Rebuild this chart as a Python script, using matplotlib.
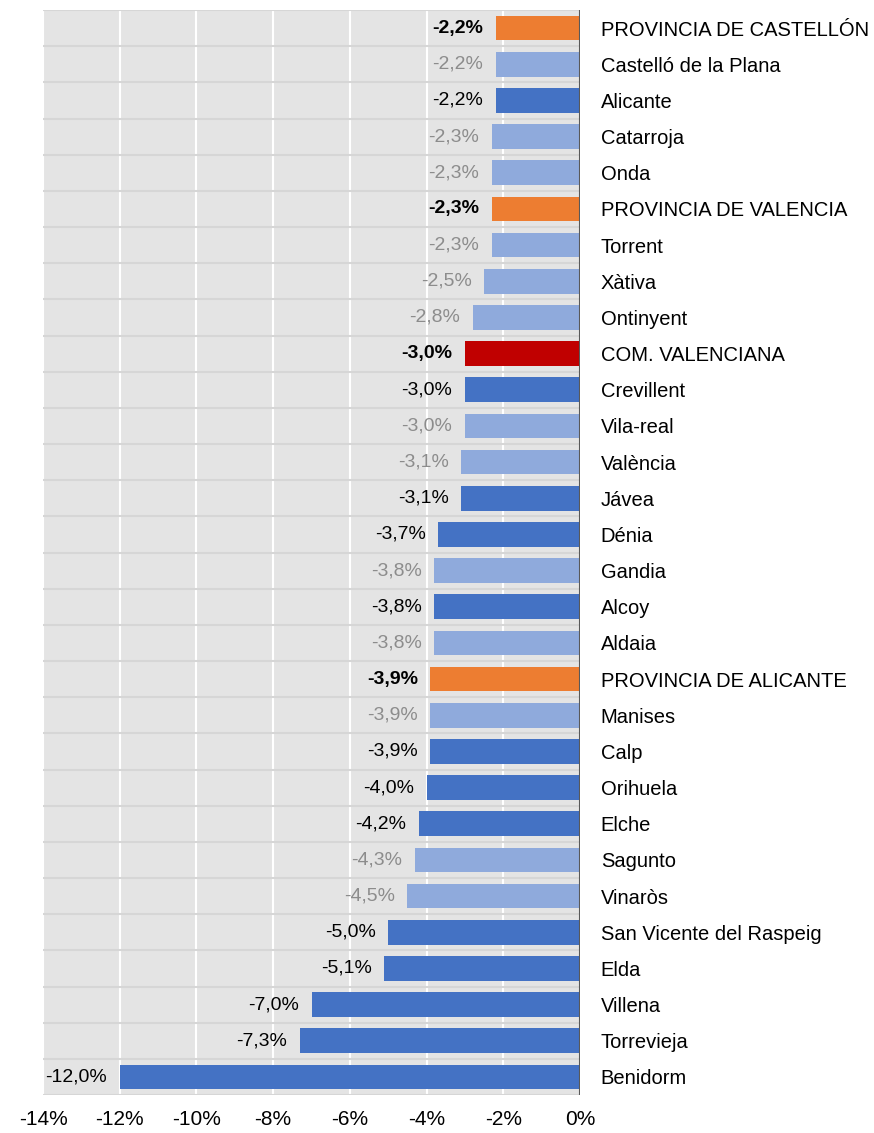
import numpy as np
import matplotlib
matplotlib.use("Agg")
import matplotlib.pyplot as plt
from matplotlib.ticker import FuncFormatter

plt.rcParams['font.family'] = ['Liberation Sans', 'DejaVu Sans']

# data (top to bottom)
names = ["PROVINCIA DE CASTELLÓN", "Castelló de la Plana", "Alicante", "Catarroja", "Onda",
         "PROVINCIA DE VALENCIA", "Torrent", "Xàtiva", "Ontinyent", "COM. VALENCIANA",
         "Crevillent", "Vila-real", "València", "Jávea", "Dénia", "Gandia", "Alcoy", "Aldaia",
         "PROVINCIA DE ALICANTE", "Manises", "Calp", "Orihuela", "Elche", "Sagunto", "Vinaròs",
         "San Vicente del Raspeig", "Elda", "Villena", "Torrevieja", "Benidorm"]
values = [-2.2, -2.2, -2.2, -2.3, -2.3, -2.3, -2.3, -2.5, -2.8, -3.0,
          -3.0, -3.0, -3.1, -3.1, -3.7, -3.8, -3.8, -3.8, -3.9, -3.9,
          -3.9, -4.0, -4.2, -4.3, -4.5, -5.0, -5.1, -7.0, -7.3, -12.0]
# group: P = provincia, C = comunidad, A = dark blue, V = light blue
groups = ["P", "V", "A", "V", "V", "P", "V", "V", "V", "C",
          "A", "V", "V", "A", "A", "V", "A", "V", "P", "V",
          "A", "A", "A", "V", "V", "A", "A", "A", "A", "A"]

bar_colors = {"P": "#ED7D31", "C": "#C00000", "A": "#4472C4", "V": "#8FAADC"}
label_colors = {"P": "black", "C": "black", "A": "black", "V": "#8C8C8C"}

fig = plt.figure(figsize=(8.74, 11.33), dpi=100)
ax = fig.add_axes([43/874, 38/1133, 537/874, 1085/1133])
ax.set_facecolor("#E4E4E4")

n = len(names)
y = np.arange(n)
ax.barh(y, values, height=0.68, color=[bar_colors[g] for g in groups], zorder=3)

ax.set_xlim(-14, 0)
ax.set_ylim(n - 0.5, -0.5)

# vertical white gridlines
ax.set_xticks(np.arange(-14, 1, 2))
ax.xaxis.set_major_formatter(FuncFormatter(lambda v, p: f"{v:.0f}%"))
ax.grid(axis="x", color="white", linewidth=1.5, zorder=1)
# horizontal row separators
for b in np.arange(-0.5, n, 1):
    ax.axhline(b, color="#D6D6D6", linewidth=1.5, zorder=2)
ax.axvline(0, color="#595959", linewidth=1.5, zorder=4)

for s in ax.spines.values():
    s.set_visible(False)
ax.tick_params(axis="x", length=0, pad=11, labelsize=15)

ax.yaxis.tick_right()
ax.set_yticks(y)
ax.set_yticklabels(names)
ax.tick_params(axis="y", length=0, pad=15, labelsize=14.5)

for yi, v, g in zip(y, values, groups):
    lbl = f"{v:.1f}%".replace(".", ",")
    ax.annotate(lbl, (v, yi), xytext=(-9, 0), textcoords="offset points",
                ha="right", va="center", fontsize=14,
                color=label_colors[g],
                fontweight="bold" if g in ("P", "C") else "normal", zorder=5)

fig.savefig("out.png", dpi=100)
